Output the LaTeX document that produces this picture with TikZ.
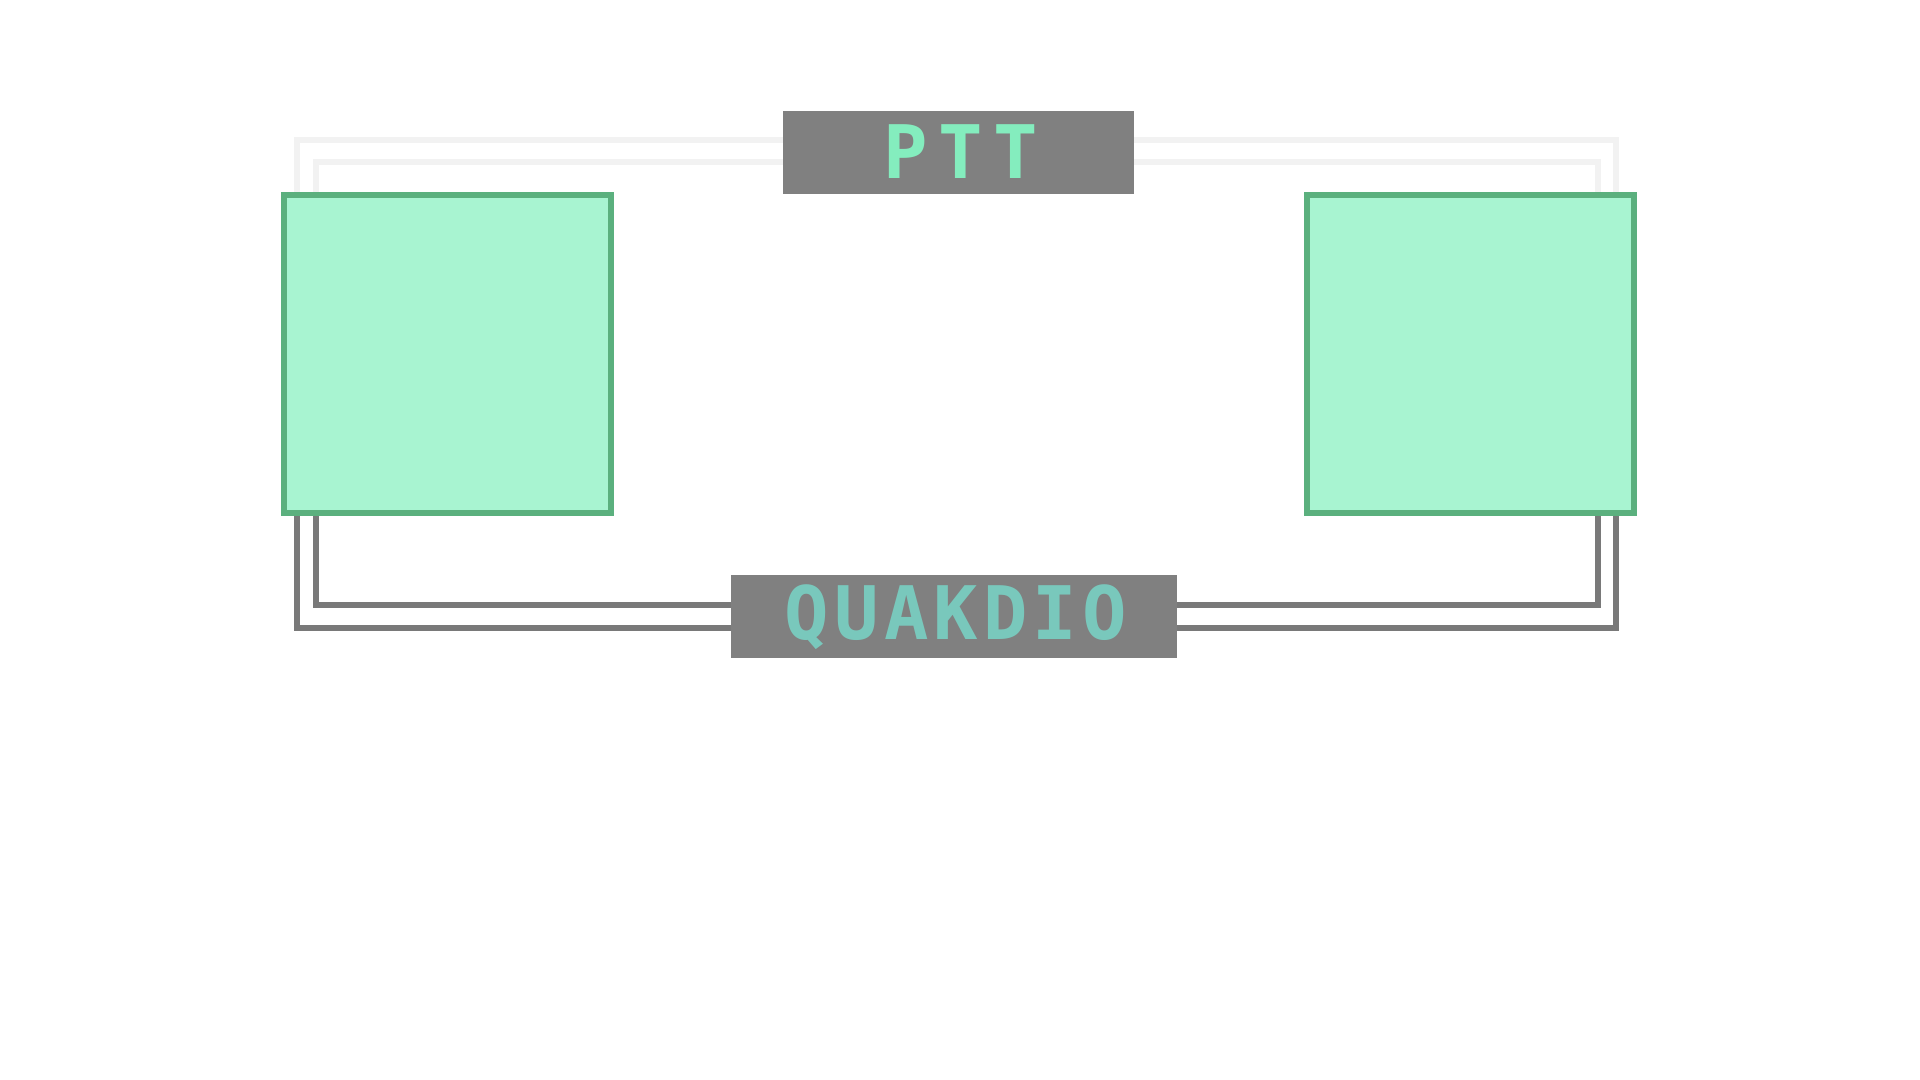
\documentclass[tikz,border=0pt]{standalone}
\usepackage{fontspec}
\usepackage{tikz}
\usetikzlibrary{positioning}
\usetikzlibrary{backgrounds}
\newfontfamily\pixfont[LetterSpace=14]{DejaVu Sans Mono}
\newfontfamily\quakfont[LetterSpace=7]{DejaVu Sans Mono}
\definecolor{padfill}{HTML}{A8F4D1}
\definecolor{padedge}{HTML}{5BB07E}
\definecolor{tagtext}{HTML}{84EDBE}
\definecolor{quaktext}{HTML}{79C8BC}
\definecolor{wiredark}{HTML}{797979}
\definecolor{wirelight}{HTML}{F2F2F2}

\begin{document}
\begin{tikzpicture}[x=0.01cm, y=-0.01cm, line cap=rect, line join=miter,
    pad/.style={draw=padedge, fill=padfill, line width=1.7pt, minimum width=3.27cm, minimum height=3.18cm, inner sep=0pt},
    tag/.style={fill=gray, minimum width=#1, minimum height=0.82cm, inner sep=0pt},
    darkwire/.style={draw=wiredark, line width=1.7pt, shorten <=-3pt, shorten >=-3pt},
    lightwire/.style={draw=wirelight, line width=1.7pt, shorten <=-3pt, shorten >=-3pt}]
  \useasboundingbox (0,0) rectangle (1920,1080);
  %--- pads
    \node[pad] (leftpad) at (447.5, 354) {};
    \node[pad] (rightpad) at (1470.5, 354) {};
  %--- labels
    \node[tag=3.51cm] (ptt) at (958.5, 152.5) {};
    \node[text=tagtext, inner sep=0pt] (ptttext) at (961, 152) {\pixfont\bfseries\fontsize{21pt}{21pt}\selectfont PTT};
    \node[tag=4.46cm] (quak) at (954, 616.5) {};
    \node[text=quaktext, inner sep=0pt] (quaktext) at (956, 617) {\quakfont\bfseries\fontsize{21pt}{21pt}\selectfont QUAKDIO};
  %--- wire rails
    \coordinate (lo) at (297, 0);
    \coordinate (li) at (316, 0);
    \coordinate (ro) at (1616, 0);
    \coordinate (ri) at (1598, 0);
    \coordinate (to) at (0, 140);
    \coordinate (ti) at (0, 162);
    \coordinate (bo) at (0, 628);
    \coordinate (bi) at (0, 605);
  \begin{scope}[on background layer]
  %--- PTT wires
    \draw[lightwire] (leftpad.north -| lo) |- (ptt.west |- to);
    \draw[lightwire] (leftpad.north -| li) |- (ptt.west |- ti);
    \draw[lightwire] (ptt.east |- to) -| (rightpad.north -| ro);
    \draw[lightwire] (ptt.east |- ti) -| (rightpad.north -| ri);
  %--- QUAKDIO wires
    \draw[darkwire] (leftpad.south -| lo) |- (quak.west |- bo);
    \draw[darkwire] (leftpad.south -| li) |- (quak.west |- bi);
    \draw[darkwire] (quak.east |- bo) -| (rightpad.south -| ro);
    \draw[darkwire] (quak.east |- bi) -| (rightpad.south -| ri);
  \end{scope}
\end{tikzpicture}
\end{document}
